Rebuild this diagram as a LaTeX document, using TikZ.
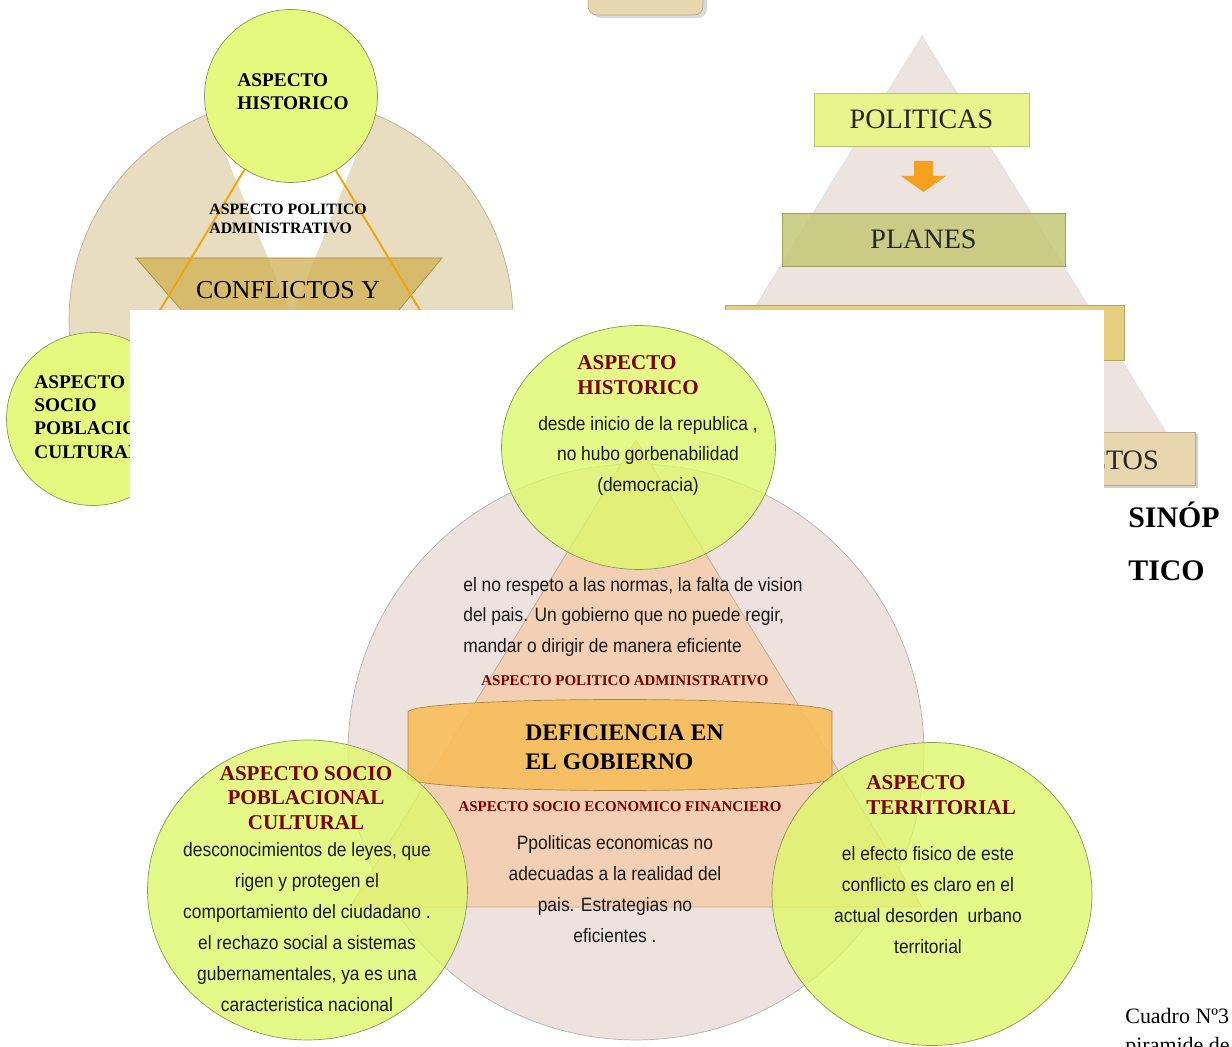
\documentclass[tikz,border=0pt]{standalone}
\usepackage{fontspec}
\setmainfont{Liberation Serif}
\newfontfamily\narrowfont[FakeStretch=0.9]{Liberation Sans}
\usetikzlibrary{positioning}
\usetikzlibrary{shapes.geometric}

\definecolor{oldbeige}{RGB}{232,220,193}
\definecolor{beigeline}{RGB}{190,175,150}
\definecolor{oldlime}{RGB}{228,249,126}
\definecolor{bubblelime}{RGB}{222,248,104}
\definecolor{bubbleline}{RGB}{140,150,90}
\definecolor{trapfill}{RGB}{208,176,82}
\definecolor{orangeline}{RGB}{242,165,10}
\definecolor{pyrfill}{RGB}{237,228,224}
\definecolor{polfill}{RGB}{232,245,140}
\definecolor{planfill}{RGB}{196,200,118}
\definecolor{progfill}{RGB}{228,208,128}
\definecolor{proyfill}{RGB}{231,214,174}
\definecolor{arrowfill}{RGB}{245,160,30}
\definecolor{pinkcirc}{RGB}{238,226,222}
\definecolor{peach}{RGB}{243,208,180}
\definecolor{cylfill}{RGB}{248,190,92}
\definecolor{titlered}{RGB}{125,0,0}

\begin{document}
\begin{tikzpicture}
[x=0.02cm, y=-0.02cm,
 bubble/.style={shape=ellipse,draw=bubbleline,fill=bubblelime,fill opacity=0.78,inner sep=0pt},
 oldbubble/.style={shape=ellipse,draw=bubbleline,fill=oldlime,inner sep=0pt},
 tier/.style={shape=rectangle,draw=#1!80!black,fill=#1,inner sep=0pt,
   font=\fontsize{16}{18}\selectfont,text=black!85},
 oldtitle/.style={align=left,anchor=west,inner sep=0pt,
   font=\bfseries\fontsize{11}{13.2}\selectfont},
 redtitle/.style={text=titlered,inner sep=0pt,font=\bfseries\fontsize{12}{14}\selectfont},
 redlabel/.style={text=titlered,inner sep=0pt,font=\bfseries\fontsize{8.5}{10}\selectfont},
 body/.style={text=black!90,align=center,inner sep=0pt,
   font=\narrowfont\fontsize{11}{17.6}\selectfont}]

\useasboundingbox (0,0) rectangle (1232,1047);
\clip (0,0) rectangle (1232,1047);

% old diagram, top left
\draw [draw=beigeline,fill=oldbeige] (291,320) circle [radius=4.44cm];
\fill [white] (225,153) -- (357,153) -- (292,316) -- cycle;
\draw [draw=trapfill!80!black,fill=trapfill,fill opacity=0.75]
	(136,258) -- (442,258) -- (370,345) -- (212,345) -- cycle;
\draw [orangeline,line width=1.1pt] (106,400) -- (290,94) -- (474,400);

\draw (291,96) node (oldhist) [oldbubble,minimum width=3.46cm,minimum height=3.46cm] {};
\draw (237,92) node (oldhisttxt) [oldtitle] {ASPECTO\\HISTORICO};
\draw (209,219) node (oldpol) [oldtitle,font=\bfseries\fontsize{9}{10.8}\selectfont]
	{ASPECTO POLITICO\\ADMINISTRATIVO};
\draw (288,290) node (oldconf) [inner sep=0pt,font=\fontsize{14.7}{16}\selectfont] {CONFLICTOS Y};

\draw (93,419) node (oldsocio) [oldbubble,minimum width=3.46cm,minimum height=3.46cm] {};
\draw (34,417) node (oldsociotxt) [oldtitle] {ASPECTO\\SOCIO\\POBLACIONAL\\CULTURAL};

% pyramid, top right
\draw [draw=black!12,fill=pyrfill] (922,36) -- (1180,455) -- (664,455) -- cycle;
\draw (921.5,119.5) node (pol) [tier=polfill,minimum width=4.3cm,minimum height=1.06cm] {POLITICAS};
\fill [arrowfill] (914,161) -- (933,161) -- (933,176) -- (946,176) -- (923.5,192)
	-- (901,176) -- (914,176) -- cycle;
\draw (923.5,239.5) node (pla) [tier=planfill,fill opacity=0.85,text opacity=1,
	minimum width=5.66cm,minimum height=1.06cm] {PLANES};
\draw [draw=progfill!80!black,fill=progfill] (725,305) rectangle (1124,360);
\fill [black!18] (964,434) rectangle (1198,488);
\draw (1078,458.5) node (proy) [tier=proyfill,minimum width=4.68cm,minimum height=1.06cm] {};
\draw (1159,460) node (proytxt) [anchor=east,inner sep=0pt,font=\fontsize{16}{18}\selectfont,
	text=black!85] {PROYECTOS};
\fill [black!15,rounded corners=5pt] (592,-20) rectangle (707,18);
\draw [draw=proyfill!80!black,fill=proyfill,rounded corners=5pt] (588,-20) rectangle (703,15);

% white sheet over the old pictures
\fill [white] (130,310) rectangle (1104,1047);

% main diagram
\draw [draw=black!30,fill=pinkcirc] (636,752) circle [radius=5.76cm];
\draw [draw=peach!80!black,fill=peach] (636,440) -- (922,907) -- (350,907) -- cycle;
\draw [draw=cylfill!70!black,fill=cylfill,fill opacity=0.9]
	(408,712) -- (408,778)
	arc [start angle=180,end angle=360,x radius=4.24cm,y radius=0.25cm]
	-- (832,712)
	arc [start angle=0,end angle=180,x radius=4.24cm,y radius=0.25cm] -- cycle;

\draw (625,681) node (polab) [redlabel] {ASPECTO POLITICO ADMINISTRATIVO};
\draw (620,807) node (eclab) [redlabel] {ASPECTO SOCIO ECONOMICO FINANCIERO};
\draw (525,747.5) node (def) [anchor=west,align=left,inner sep=0pt,
	font=\bfseries\fontsize{13.5}{16.4}\selectfont] {DEFICIENCIA EN\\EL GOBIERNO};
\draw (463,617) node (poltxt) [body,anchor=west,align=left]
	{el no respeto a las normas, la falta de vision\\del pais. Un gobierno que no puede regir,\\mandar o dirigir de manera eficiente};
\draw (615,889) node (ectxt) [body]
	{Ppoliticas economicas no\\adecuadas a la realidad del\\pais. Estrategias no\\eficientes .};

\draw (638.5,447.5) node (hist) [bubble,minimum width=5.48cm,minimum height=4.88cm] {};
\draw (307.5,890) node (socio) [bubble,minimum width=6.4cm,minimum height=6cm] {};
\draw (932,894) node (terr) [bubble,minimum width=6.4cm,minimum height=6.06cm] {};

\draw (577,375) node (histtit) [redtitle,anchor=west,align=left] {ASPECTO\\HISTORICO};
\draw (648,456) node (histtxt) [body]
	{desde inicio de la republica ,\\no hubo gorbenabilidad\\(democracia)};
\draw (306,798) node (sociotit) [redtitle,align=center]
	{ASPECTO SOCIO\\POBLACIONAL\\CULTURAL};
\draw (307,927) node (sociotxt) [body]
	{desconocimientos de leyes, que\\rigen y protegen el\\comportamiento del ciudadano .\\el rechazo social a sistemas\\gubernamentales, ya es una\\caracteristica nacional};
\draw (866,795) node (terrtit) [redtitle,anchor=west,align=left] {ASPECTO\\TERRITORIAL};
\draw (928,900) node (terrtxt) [body]
	{el efecto fisico de este\\conflicto es claro en el\\actual desorden\ \ urbano\\territorial};

% side text
\draw (1128,528) node (sinop) [anchor=base west,inner sep=0pt,
	font=\bfseries\fontsize{17}{20}\selectfont] {SINÓP};
\draw (1128,581) node (tico) [anchor=base west,inner sep=0pt,
	font=\bfseries\fontsize{17}{20}\selectfont] {TICO};
\draw (1125,1023) node (cuadro) [anchor=base west,inner sep=0pt,
	font=\fontsize{12.5}{15}\selectfont] {Cuadro Nº3};
\draw (1125,1052) node (pira) [anchor=base west,inner sep=0pt,
	font=\fontsize{12.5}{15}\selectfont] {piramide de};

\end{tikzpicture}
\end{document}
